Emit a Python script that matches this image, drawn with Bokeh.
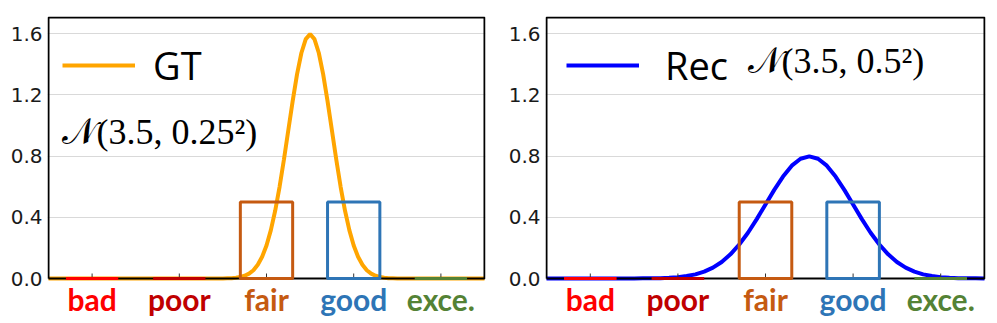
from bokeh.plotting import figure
from bokeh.layouts import row
from bokeh.models import FixedTicker, Label, Legend, LegendItem, NumeralTickFormatter, Range1d
from bokeh.core.properties import value
from bokeh.embed import file_html
from bokeh.resources import INLINE

# ---- data ----
categories = ["bad", "poor", "fair", "good", "exce."]
cat_pos = [1, 2, 3, 4, 5]
cat_colors = ["#ff0000", "#c00000", "#c55a11", "#2e75b6", "#548235"]
gt_probs = [0.0, 0.0, 0.5, 0.5, 0.0]
rec_probs = [0.0, 0.0, 0.5, 0.5, 0.0]
y_ticks = [0.0, 0.4, 0.8, 1.2, 1.6]

# GT density N(3.5, 0.25^2)
gt_x = [0.5, 2.50, 2.55, 2.60, 2.65, 2.70, 2.75, 2.80, 2.85, 2.90, 2.95,
        3.00, 3.05, 3.10, 3.15, 3.20, 3.25, 3.30, 3.35, 3.40, 3.45, 3.50,
        3.55, 3.60, 3.65, 3.70, 3.75, 3.80, 3.85, 3.90, 3.95, 4.00,
        4.05, 4.10, 4.15, 4.20, 4.25, 4.30, 4.35, 4.40, 4.45, 4.50, 5.5]
gt_y = [0.0, 0.000, 0.001, 0.002, 0.005, 0.010, 0.018, 0.032, 0.054, 0.090, 0.142,
        0.216, 0.316, 0.444, 0.599, 0.777, 0.968, 1.159, 1.333, 1.473, 1.564, 1.596,
        1.564, 1.473, 1.333, 1.159, 0.968, 0.777, 0.599, 0.444, 0.316, 0.216,
        0.142, 0.090, 0.054, 0.032, 0.018, 0.010, 0.005, 0.002, 0.001, 0.000, 0.0]

# Rec density N(3.5, 0.5^2)
rec_x = [0.5, 1.5, 1.6, 1.7, 1.8, 1.9, 2.0, 2.1, 2.2, 2.3, 2.4, 2.5, 2.6, 2.7, 2.8,
         2.9, 3.0, 3.1, 3.2, 3.3, 3.4, 3.5, 3.6, 3.7, 3.8, 3.9, 4.0, 4.1, 4.2,
         4.3, 4.4, 4.5, 4.6, 4.7, 4.8, 4.9, 5.0, 5.1, 5.2, 5.3, 5.4, 5.5]
rec_y = [0.0, 0.000, 0.001, 0.001, 0.002, 0.005, 0.009, 0.016, 0.027, 0.045, 0.071,
         0.108, 0.158, 0.222, 0.299, 0.388, 0.484, 0.579, 0.666, 0.737, 0.782, 0.798,
         0.782, 0.737, 0.666, 0.579, 0.484, 0.388, 0.299, 0.222, 0.158, 0.108,
         0.071, 0.045, 0.027, 0.016, 0.009, 0.005, 0.002, 0.001, 0.001, 0.000]

X_LO, X_HI = 0.5, 5.5      # axes box, data units
Y_TOP = 1.705
BOX_H_PX = 261             # axes box height (y=0 .. Y_TOP)
BELOW_PX = 45              # room under the box for the category names


def make_panel(box_w, bl, br, xs, ys, color, probs, label, leg_margin, leg_h, standoff,
               math_text, math_x, math_y):
    # frame is 1px larger than the axes box on every side so the 2px box line is not clipped
    px_x = (X_HI - X_LO) / box_w
    px_y = Y_TOP / BOX_H_PX
    y_bottom = -BELOW_PX * px_y
    p = figure(frame_width=box_w + 2, frame_height=BOX_H_PX + 1 + BELOW_PX,
               x_range=Range1d(X_LO - px_x, X_HI + px_x),
               y_range=Range1d(y_bottom, Y_TOP + px_y), output_backend="svg",
               toolbar_location=None, min_border_left=bl - 1, min_border_right=br - 1,
               min_border_top=16, min_border_bottom=0)
    p.outline_line_color = None
    p.xgrid.visible = False
    p.ygrid.ticker = FixedTicker(ticks=y_ticks)
    p.ygrid.grid_line_color = "#d9d9d9"
    p.ygrid.grid_line_width = 1

    p.yaxis.ticker = FixedTicker(ticks=y_ticks)
    p.yaxis.formatter = NumeralTickFormatter(format="0.0")
    p.yaxis.major_label_text_font = "DejaVu Sans"
    p.yaxis.major_label_text_font_size = "20px"
    p.yaxis.major_label_text_color = "#1a1a1a"
    p.yaxis.major_tick_line_color = None
    p.yaxis.major_tick_out = 0
    p.yaxis.major_tick_in = 0
    p.yaxis.minor_tick_line_color = None
    p.yaxis.minor_tick_out = 0
    p.yaxis.axis_line_color = None
    p.yaxis.major_label_standoff = 5
    p.xaxis.visible = False

    ln = p.line(xs, ys, line_color=color, line_width=4)
    # axes box (spines) from y=0 to the top of the axes
    p.line(x=[X_LO, X_LO, X_HI, X_HI, X_LO], y=[0, Y_TOP, Y_TOP, 0, 0],
           line_color="#000000", line_width=2)
    # small inward ticks at each category
    tick_h = 5 * px_y
    p.multi_line(xs=[[c, c] for c in cat_pos], ys=[[0, tick_h] for _ in cat_pos],
                 line_color="#333333", line_width=1)
    p.vbar(x=cat_pos, top=probs, bottom=0, width=0.6, fill_alpha=0,
           line_color=cat_colors, line_width=3)

    legend = Legend(items=[LegendItem(label=label, renderers=[ln])], location="top_left",
                    margin=leg_margin + 1, padding=0, glyph_width=73, glyph_height=leg_h,
                    label_height=leg_h, label_standoff=standoff,
                    label_text_font="Open Sans", label_text_font_size="38px",
                    label_text_color="black",
                    border_line_color=None, background_fill_alpha=0)
    p.add_layout(legend)

    p.add_layout(Label(x=math_x, y=math_y, text=math_text, text_font="Liberation Serif",
                       text_font_size="36px", text_color="black", text_baseline="middle"))

    # category names under the axes box, coloured one by one
    p.text(x=cat_pos, y=[-0.131] * len(cat_pos), text=categories, text_color=cat_colors,
           text_font=value("Lato"), text_font_style="bold", text_font_size="30px",
           text_align="center", text_baseline="middle")
    return p


left = make_panel(436, 48, 12, gt_x, gt_y, "orange", gt_probs, "GT", 14, 68, 18,
                  "𝒩(3.5, 0.25²)", 0.66, 0.960)
right = make_panel(438, 50, 13, rec_x, rec_y, "#0000ff", rec_probs, "Rec", 20, 56, 26,
                   "𝒩(3.5, 0.5²)", 2.795, 1.424)

layout = row(left, right, spacing=0)
open("out.html", "w").write(file_html(layout, INLINE))
